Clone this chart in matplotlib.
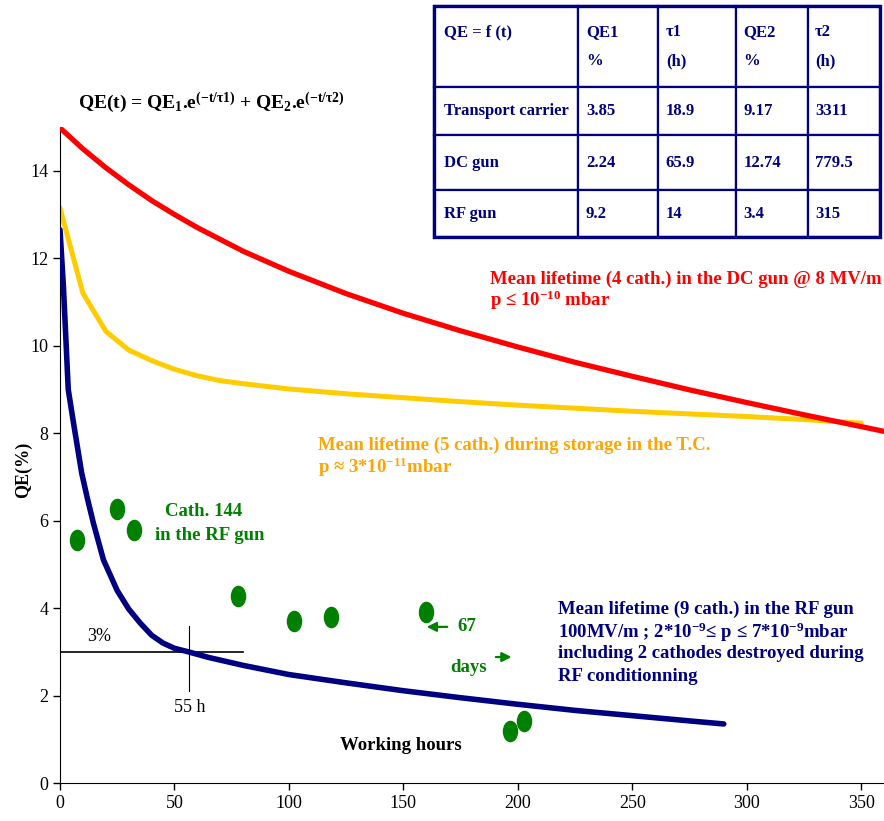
import matplotlib.pyplot as plt
from matplotlib.path import Path
from matplotlib.transforms import Affine2D

plt.rcParams['font.family'] = 'Liberation Serif'
plt.rcParams['mathtext.fontset'] = 'custom'
plt.rcParams['mathtext.rm'] = 'Liberation Serif:bold'
plt.rcParams['mathtext.it'] = 'Liberation Serif:bold'
plt.rcParams['mathtext.bf'] = 'Liberation Serif:bold'

# --- courbes ---
dc_t = [0, 10, 20, 30, 40, 50, 60, 80, 100, 125, 150, 175, 200, 225, 250, 275, 300, 325, 350, 360]
dc_qe = [14.98, 14.50, 14.07, 13.68, 13.32, 13.00, 12.70, 12.16, 11.70, 11.19, 10.74, 10.34,
         9.97, 9.62, 9.30, 8.99, 8.70, 8.42, 8.15, 8.04]

tc_t = [0, 10, 20, 30, 40, 50, 60, 70, 80, 100, 125, 150, 175, 200, 225, 250, 275, 300, 325, 350]
tc_qe = [13.15, 11.20, 10.33, 9.90, 9.66, 9.46, 9.31, 9.20, 9.13, 9.01, 8.90, 8.81, 8.72,
         8.64, 8.57, 8.50, 8.44, 8.38, 8.31, 8.23]

rf_t = [0, 1.5, 3.6, 6, 9.5, 12, 14.6, 19, 25, 30, 35, 40, 45, 50, 56, 65, 80, 100, 125, 150,
        175, 200, 225, 250, 275, 290]
rf_qe = [12.65, 11.35, 9.00, 8.20, 7.08, 6.50, 5.94, 5.10, 4.40, 3.98, 3.66, 3.38, 3.20,
         3.08, 3.00, 2.87, 2.69, 2.48, 2.29, 2.11, 1.95, 1.80, 1.66, 1.54, 1.42, 1.35]

# cathode 144 dans le canon RF
cath_t = [7.4, 24.9, 32.3, 77.8, 102.2, 118.4, 159.9, 196.6, 202.7]
cath_qe = [5.56, 6.27, 5.79, 4.28, 3.71, 3.80, 3.91, 1.19, 1.42]

# tableau des parametres
tab_header = ["QE = f (t)\n ", "QE1\n%", "τ1\n(h)", "QE2\n%", "τ2\n(h)"]
tab_names = ["Transport carrier", "DC gun", "RF gun"]
tab_qe1 = ["3.85", "2.24", "9.2"]
tab_tau1 = ["18.9", "65.9", "14"]
tab_qe2 = ["9.17", "12.74", "3.4"]
tab_tau2 = ["3311", "779.5", "315"]

navy = "#000080"
green = "#008000"
FS = 13.5

fig = plt.figure(figsize=(8.84, 8.21), dpi=100)
ax = fig.add_axes([60 / 884, 1 - 783 / 821, 824 / 884, 656 / 821])

ax.plot(dc_t, dc_qe, color="#ff0000", lw=3.8, solid_capstyle="round", zorder=3)
ax.plot(tc_t, tc_qe, color="#ffcc00", lw=3.6, solid_capstyle="round", zorder=2)
ax.plot(rf_t, rf_qe, color=navy, lw=4.0, solid_capstyle="round", zorder=3)

ellipse = Path.unit_circle().transformed(Affine2D().scale(0.7, 1.0))
ax.plot(cath_t, cath_qe, ls="none", marker=ellipse, markersize=14.5,
        color=green, zorder=4)

# 3% / 55 h
ax.plot([0, 80], [3.0, 3.0], color="black", lw=1.2)
ax.plot([56.4, 56.4], [2.11, 3.59], color="black", lw=0.8)
ax.text(17, 3.36, "3%", fontsize=13, ha="center", va="center")
ax.text(56.6, 1.72, "55 h", fontsize=13, ha="center", va="center")

ax.set_xlim(0, 360)
ax.set_ylim(0, 15)
ax.set_xticks(range(0, 351, 50))
ax.set_yticks(range(0, 15, 2))
ax.tick_params(direction="out", length=5, width=1, labelsize=13)
for s in ["top", "right"]:
    ax.spines[s].set_visible(False)
ax.set_ylabel("QE(%)", fontsize=13, fontweight="bold")
ax.yaxis.set_label_coords(-0.034, 0.477)

ax.text(149, 0.85, "Working hours", fontsize=FS, fontweight="bold",
        ha="center", va="center")


def lines(x, ys, texts, color):
    for y, s in zip(ys, texts):
        ax.text(x, y, s, fontsize=FS, fontweight="bold", color=color,
                ha="left", va="center", clip_on=False)


lines(187.9, [11.51, 11.03],
      ["Mean lifetime (4 cath.) in the DC gun @ 8 MV/m",
       r"p ≤ 10$^{-10}$ mbar"], "#ff0000")
lines(112.7, [7.71, 7.23],
      ["Mean lifetime (5 cath.) during storage in the T.C.",
       r"p ≈ 3*10$^{-11}$mbar"], "#ffa500")
ax.text(45.9, 6.2, "Cath. 144", fontsize=FS, fontweight="bold", color=green,
        ha="left", va="center")
ax.text(41.5, 5.67, "in the RF gun", fontsize=FS, fontweight="bold", color=green,
        ha="left", va="center")
lines(217.6, [3.97, 3.44, 2.95, 2.43],
      ["Mean lifetime (9 cath.) in the RF gun",
       r"100MV/m ; 2*10$^{-9}$≤ p ≤ 7*10$^{-9}$mbar",
       "including 2 cathodes destroyed during",
       "RF conditionning"], navy)

# 67 days
ax.annotate("", xy=(159.0, 3.57), xytext=(170.4, 3.57),
            arrowprops=dict(arrowstyle="-|>", color=green, lw=1.6, mutation_scale=14))
ax.text(173.4, 3.57, "67", fontsize=FS, fontweight="bold", color=green, va="center")
ax.text(170.4, 2.63, "days", fontsize=FS, fontweight="bold", color=green, va="center")
ax.annotate("", xy=(198.5, 2.88), xytext=(189.2, 2.88),
            arrowprops=dict(arrowstyle="-|>", color=green, lw=1.6, mutation_scale=14))

# formule
fig.text(78 / 884, 1 - 103 / 821,
         r"QE(t) = QE$_1$.e$^{(-t/\tau1)}$ + QE$_2$.e$^{(-t/\tau2)}$",
         fontsize=14, fontweight="bold", va="center")

# tableau
tax = fig.add_axes([434 / 884, 1 - 237 / 821, 446 / 884, 231 / 821])
tax.axis("off")
cells = [tab_header] + [[n, a, b, c, d] for n, a, b, c, d in
                        zip(tab_names, tab_qe1, tab_tau1, tab_qe2, tab_tau2)]
col_w = [144, 80, 78, 72, 72]
row_h = [81, 48, 55, 47]
tbl = tax.table(cellText=cells, cellLoc="left", bbox=[0, 0, 1, 1],
                colWidths=[w / sum(col_w) for w in col_w])
tbl.auto_set_font_size(False)
for (r, c), cell in tbl.get_celld().items():
    cell.set_height(row_h[r] / sum(row_h))
    cell.set_edgecolor(navy)
    cell.set_linewidth(1.6)
    cell.PAD = 0.07 if c == 0 else 0.1
    t = cell.get_text()
    t.set_fontsize(12)
    t.set_fontweight("bold")
    t.set_color(navy)
    t.set_linespacing(2.1)
tax.add_patch(plt.Rectangle((0, 0), 1, 1, transform=tax.transAxes, fill=False,
                            edgecolor=navy, lw=2.4, clip_on=False))

fig.savefig("out.png", dpi=100)
